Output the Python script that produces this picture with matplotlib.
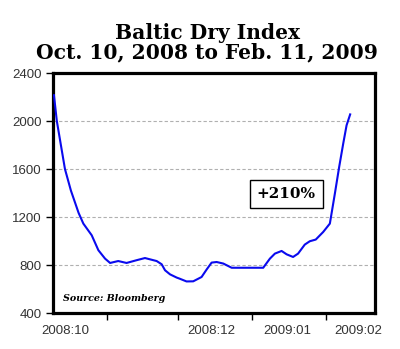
import matplotlib
matplotlib.use("Agg")
import matplotlib.pyplot as plt
import pandas as pd

# Baltic Dry Index, days counted from the first observation
start_date = "2008-10-10"
days = [0.0, 1.2, 4.6, 7.1, 10.3, 12.3, 15.8, 18.6, 21.4, 23.5, 26.9, 30.4,
        34.6, 38.1, 43.0, 45.1, 46.5, 48.6, 51.4, 52.5, 55.5, 58.3, 61.8,
        63.9, 66.0, 68.1, 70.9, 74.4, 87.6, 90.4, 92.5, 95.3, 97.4, 100.1,
        102.2, 105.0, 107.1, 109.6, 112.7, 115.5, 116.2, 117.6, 119.4,
        121.1, 122.5, 124.0]
bdi = [2215, 2000, 1600, 1420, 1235, 1145, 1048, 923, 853, 817, 833, 817,
       840, 858, 833, 806, 756, 722, 695, 687, 663, 664, 700,
       762, 820, 825, 812, 777, 777, 853, 895, 917, 889, 867,
       895, 970, 998, 1012, 1075, 1145, 1228, 1395, 1617,
       1812, 1964, 2055]

month_starts = ["2008-11-01", "2008-12-01", "2009-01-01", "2009-02-01"]
month_labels = ["2008:10", "2008:12", "2009:01", "2009:02"]
label_days = [4.6, 65.7, 97.5, 127.2]
y_ticks = [400, 800, 1200, 1600, 2000, 2400]

title_lines = ["Baltic Dry Index", "Oct. 10, 2008 to Feb. 11, 2009"]
change_label = "+210%"
source_label = "Source: Bloomberg"

t0 = pd.Timestamp(start_date)
tick_days = [(pd.Timestamp(d) - t0).days for d in month_starts]

fig = plt.figure(figsize=(4.0, 3.49), dpi=100)
fig.patch.set_facecolor("white")
ax = fig.add_axes([53 / 400, 1 - 313 / 349, 322 / 400, 240 / 349])

ax.plot(days, bdi, color="#0a0aee", linewidth=1.5, solid_joinstyle="round",
        zorder=3)

ax.set_xlim(-0.4, 134.4)
ax.set_ylim(400, 2400)

# y axis with dashed guides at the inner ticks
ax.set_yticks(y_ticks)
ax.set_yticklabels([str(v) for v in y_ticks])
for v in y_ticks[1:-1]:
    ax.axhline(v, color="#b0b0b0", linewidth=0.8, linestyle=(0, (3, 2)),
               zorder=1)

# x axis: month boundaries as tick marks, labels placed inside each month
ax.set_xticks(tick_days)
ax.set_xticklabels([""] * len(tick_days))
ax.set_xticks(label_days, minor=True)
ax.set_xticklabels(month_labels, minor=True)
ax.tick_params(axis="x", which="minor", length=0, pad=9)
ax.tick_params(axis="x", which="major", length=5, width=1, direction="out",
               color="black")
ax.tick_params(axis="y", which="major", length=5, width=1, direction="out",
               color="black", pad=3)
for lab in ax.get_xticklabels(minor=True) + ax.get_yticklabels():
    lab.set_fontfamily("Liberation Sans")
    lab.set_fontsize(9.5)
    lab.set_color("#333333")

for sp in ax.spines.values():
    sp.set_linewidth(2.3)
    sp.set_color("black")

# two-line title
for line, base_px in zip(title_lines, [39, 58]):
    fig.text(0.518, 1 - base_px / 349, line, ha="center", va="baseline",
             fontfamily="DejaVu Serif", fontweight="bold", fontsize=14.6)

ax.text(0.724, 0.495, change_label, transform=ax.transAxes, ha="center",
        va="center", fontfamily="DejaVu Serif", fontweight="semibold",
        fontsize=11,
        bbox=dict(boxstyle="square,pad=0.45", facecolor="white",
                  edgecolor="black", linewidth=1.0), zorder=4)

ax.text(0.03, 0.04, source_label, transform=ax.transAxes, ha="left",
        va="bottom", fontfamily="DejaVu Serif", fontweight="bold",
        fontstyle="italic", fontsize=6.8)

fig.savefig("out.png", dpi=100, facecolor="white")
